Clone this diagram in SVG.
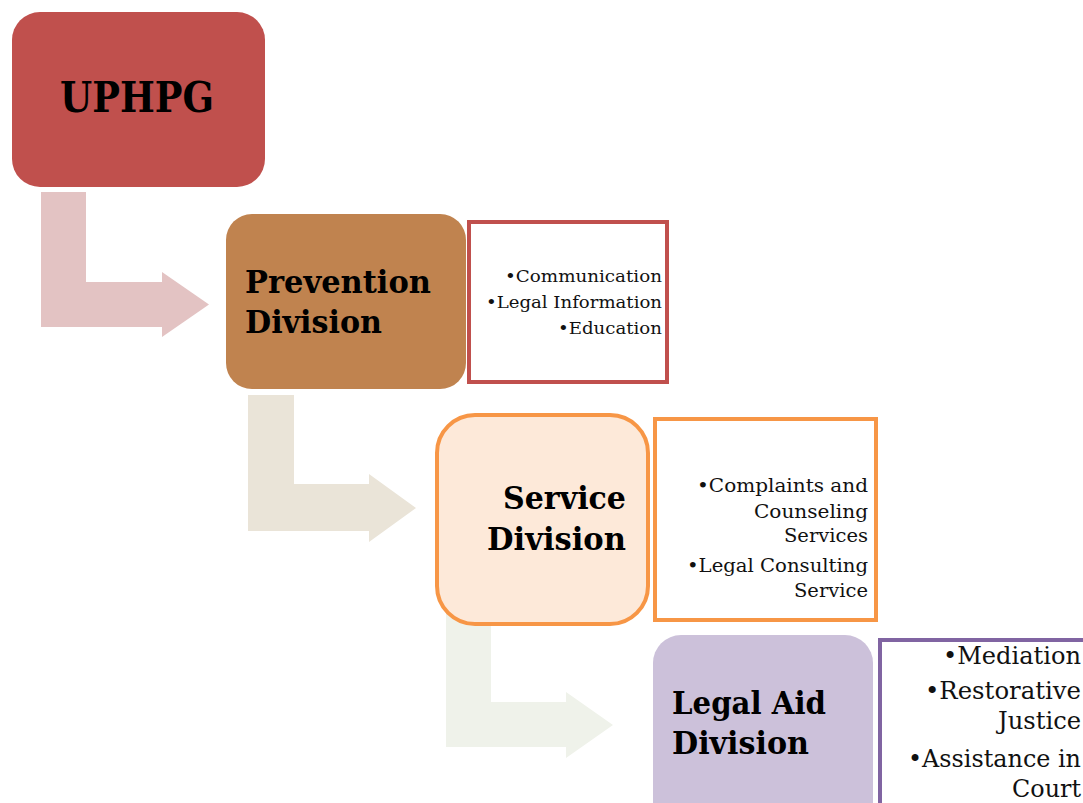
<svg xmlns="http://www.w3.org/2000/svg" width="1083" height="803" viewBox="0 0 1083 803">
<style>
.t{font-family:"DejaVu Serif","Liberation Serif",serif;font-weight:bold;fill:#000}
.b{font-family:"DejaVu Serif","Liberation Serif",serif;fill:#111}
.list{fill:#fff;stroke-width:4}
</style>
<rect width="1083" height="803" fill="#fff"/>
<g id="connectors">
<path d="M41 192 H86 V282 H162 V272 L209 304.5 L162 337 V327 H41 Z" fill="#E3C3C3"/>
<path d="M248 395 H294 V484 H369 V474 L416 508 L369 542 V531 H248 Z" fill="#EAE4D8"/>
<path d="M446 600 H491 V702 H566 V692 L613 725 L566 758 V747 H446 Z" fill="#EFF2EA"/>
</g>
<g id="uphpg">
<rect x="12" y="12" width="253" height="175" rx="28" fill="#C0504D"/>
<text class="t" x="60" y="112" font-size="42" textLength="154" lengthAdjust="spacingAndGlyphs">UPHPG</text>
</g>
<g id="prevention">
<rect x="226" y="214" width="240" height="175" rx="26" fill="#C0834F"/>
<text class="t" x="245" y="293" font-size="31" textLength="186" lengthAdjust="spacingAndGlyphs">Prevention</text>
<text class="t" x="245" y="333" font-size="31" textLength="137" lengthAdjust="spacingAndGlyphs">Division</text>
</g>
<g id="prevention-list">
<rect class="list" x="469" y="222" width="198" height="160" stroke="#C0504D"/>
<text class="b" x="662" y="282" font-size="17.5" text-anchor="end" textLength="157" lengthAdjust="spacingAndGlyphs">•Communication</text>
<text class="b" x="662" y="308" font-size="17.5" text-anchor="end" textLength="176" lengthAdjust="spacingAndGlyphs">•Legal Information</text>
<text class="b" x="662" y="334" font-size="17.5" text-anchor="end" textLength="104" lengthAdjust="spacingAndGlyphs">•Education</text>
</g>
<g id="service">
<rect x="437" y="415" width="211" height="209" rx="38" fill="#FDE9D9" stroke="#F79646" stroke-width="4"/>
<text class="t" x="626" y="509" font-size="31" text-anchor="end" textLength="123" lengthAdjust="spacingAndGlyphs">Service</text>
<text class="t" x="626" y="550" font-size="31" text-anchor="end" textLength="139" lengthAdjust="spacingAndGlyphs">Division</text>
</g>
<g id="service-list">
<rect class="list" x="655" y="419" width="221" height="201" stroke="#F79646"/>
<text class="b" x="868" y="492" font-size="19" text-anchor="end" textLength="171" lengthAdjust="spacingAndGlyphs">•Complaints and</text>
<text class="b" x="868" y="518" font-size="19" text-anchor="end" textLength="114" lengthAdjust="spacingAndGlyphs">Counseling</text>
<text class="b" x="868" y="542" font-size="19" text-anchor="end" textLength="84" lengthAdjust="spacingAndGlyphs">Services</text>
<text class="b" x="868" y="572" font-size="19" text-anchor="end" textLength="181" lengthAdjust="spacingAndGlyphs">•Legal Consulting</text>
<text class="b" x="868" y="597" font-size="19" text-anchor="end" textLength="74" lengthAdjust="spacingAndGlyphs">Service</text>
</g>
<g id="legal-aid">
<rect x="653" y="635" width="220" height="200" rx="28" fill="#CCC1DA"/>
<text class="t" x="672" y="714" font-size="31" textLength="154" lengthAdjust="spacingAndGlyphs">Legal Aid</text>
<text class="t" x="672" y="754" font-size="31" textLength="137" lengthAdjust="spacingAndGlyphs">Division</text>
</g>
<g id="legal-aid-list">
<rect class="list" x="880" y="640" width="220" height="200" stroke="#8064A2"/>
<text class="b" x="1081" y="664" font-size="24" text-anchor="end" textLength="138" lengthAdjust="spacingAndGlyphs">•Mediation</text>
<text class="b" x="1081" y="699" font-size="24" text-anchor="end" textLength="156" lengthAdjust="spacingAndGlyphs">•Restorative</text>
<text class="b" x="1081" y="729" font-size="24" text-anchor="end" textLength="83" lengthAdjust="spacingAndGlyphs">Justice</text>
<text class="b" x="1081" y="767" font-size="24" text-anchor="end" textLength="173" lengthAdjust="spacingAndGlyphs">•Assistance in</text>
<text class="b" x="1081" y="797" font-size="24" text-anchor="end" textLength="69" lengthAdjust="spacingAndGlyphs">Court</text>
</g>
</svg>
